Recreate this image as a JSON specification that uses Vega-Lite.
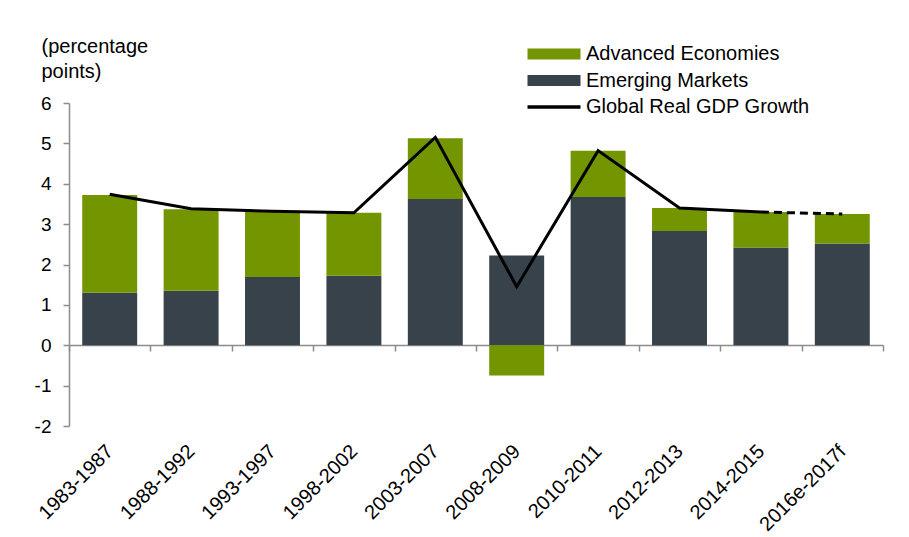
{
  "$schema": "https://vega.github.io/schema/vega-lite/v6.json",
  "width": 814,
  "height": 323,
  "autosize": {"type": "none"},
  "padding": {"left": 69, "top": 103, "right": 26, "bottom": 111},
  "config": {
    "font": "Liberation Sans",
    "view": {"stroke": null},
    "axis": {
      "labelFont": "Liberation Sans",
      "labelColor": "#000000",
      "domainColor": "#8c8c8c",
      "domainWidth": 1.5,
      "tickColor": "#8c8c8c",
      "tickWidth": 1.5,
      "grid": false
    }
  },
  "datasets": {
    "bars": [
      {"period": "1983-1987", "series": "Emerging Markets", "value": 1.3},
      {"period": "1983-1987", "series": "Advanced Economies", "value": 2.42},
      {"period": "1988-1992", "series": "Emerging Markets", "value": 1.35},
      {"period": "1988-1992", "series": "Advanced Economies", "value": 2.02},
      {"period": "1993-1997", "series": "Emerging Markets", "value": 1.69},
      {"period": "1993-1997", "series": "Advanced Economies", "value": 1.61},
      {"period": "1998-2002", "series": "Emerging Markets", "value": 1.72},
      {"period": "1998-2002", "series": "Advanced Economies", "value": 1.56},
      {"period": "2003-2007", "series": "Emerging Markets", "value": 3.62},
      {"period": "2003-2007", "series": "Advanced Economies", "value": 1.51},
      {"period": "2008-2009", "series": "Emerging Markets", "value": 2.22},
      {"period": "2008-2009", "series": "Advanced Economies", "value": -0.75},
      {"period": "2010-2011", "series": "Emerging Markets", "value": 3.67},
      {"period": "2010-2011", "series": "Advanced Economies", "value": 1.15},
      {"period": "2012-2013", "series": "Emerging Markets", "value": 2.83},
      {"period": "2012-2013", "series": "Advanced Economies", "value": 0.57},
      {"period": "2014-2015", "series": "Emerging Markets", "value": 2.42},
      {"period": "2014-2015", "series": "Advanced Economies", "value": 0.88},
      {"period": "2016e-2017f", "series": "Emerging Markets", "value": 2.52},
      {"period": "2016e-2017f", "series": "Advanced Economies", "value": 0.73}
    ],
    "gdp": [
      {"period": "1983-1987", "growth": 3.74, "seg": "actual"},
      {"period": "1988-1992", "growth": 3.38, "seg": "actual"},
      {"period": "1993-1997", "growth": 3.32, "seg": "actual"},
      {"period": "1998-2002", "growth": 3.28, "seg": "actual"},
      {"period": "2003-2007", "growth": 5.15, "seg": "actual"},
      {"period": "2008-2009", "growth": 1.45, "seg": "actual"},
      {"period": "2010-2011", "growth": 4.82, "seg": "actual"},
      {"period": "2012-2013", "growth": 3.4, "seg": "actual"},
      {"period": "2014-2015", "growth": 3.3, "seg": "actual"},
      {"period": "2014-2015", "growth": 3.3, "seg": "forecast"},
      {"period": "2016e-2017f", "growth": 3.25, "seg": "forecast"}
    ]
  },
  "encoding": {
    "x": {
      "field": "period",
      "type": "nominal",
      "sort": null,
      "scale": {"paddingInner": 0, "paddingOuter": 0},
      "axis": {
        "title": null,
        "offset": -81,
        "labelFontSize": 20,
        "labelAngle": -45,
        "labelAlign": "right",
        "labelBaseline": "middle",
        "labelPadding": 97,
        "labelDx": 1,
        "labelOverlap": false,
        "labelBound": false,
        "tickBand": "extent",
        "tickSize": 6
      }
    }
  },
  "layer": [
    {
      "data": {"name": "bars"},
      "mark": {"type": "bar", "width": {"band": 0.675}},
      "encoding": {
        "y": {
          "field": "value",
          "type": "quantitative",
          "stack": "zero",
          "scale": {"domain": [-2, 6], "nice": false},
          "axis": {
            "values": [-2, -1, 0, 1, 2, 3, 4, 5, 6],
            "labelExpr": "replace(datum.label, '−', '-')",
            "labelFontSize": 19,
            "title": ["(percentage", "points)"],
            "titleAngle": 0,
            "titleAlign": "left",
            "titleBaseline": "alphabetic",
            "titleX": -28,
            "titleY": -51,
            "titleFont": "Liberation Sans",
            "titleFontSize": 20,
            "titleFontWeight": "normal",
            "titleLineHeight": 25,
            "tickSize": 6,
            "labelPadding": 12
          }
        },
        "color": {
          "field": "series",
          "type": "nominal",
          "scale": {
            "domain": ["Advanced Economies", "Emerging Markets", "Global Real GDP Growth"],
            "range": ["#739600", "#37424a", "#000000"]
          },
          "legend": {
            "title": null,
            "orient": "none",
            "legendX": 475,
            "legendY": -59,
            "labelFont": "Liberation Sans",
            "labelFontSize": 20,
            "labelColor": "#000000",
            "labelOffset": 22,
            "labelLimit": 400,
            "symbolSize": 2809,
            "symbolType": "M-1,-0.21H1V0.21H-1Z",
            "rowPadding": 6.5,
            "encode": {
              "symbols": {
                "update": {
                  "shape": {"signal": "datum.value === 'Global Real GDP Growth' ? 'stroke' : 'M-1,-0.21H1V0.21H-1Z'"},
                  "fill": {"signal": "scale('color', datum.value)"},
                  "stroke": {"signal": "scale('color', datum.value)"},
                  "strokeWidth": {"signal": "datum.value === 'Global Real GDP Growth' ? 3.5 : 0"},
                  "opacity": {"value": 1},
                  "fillOpacity": {"value": 1}
                }
              }
            }
          }
        },
        "order": {"field": "series", "sort": "descending"}
      }
    },
    {
      "data": {"name": "gdp"},
      "transform": [{"filter": "datum.seg === 'actual'"}],
      "mark": {"type": "line", "strokeWidth": 3, "color": "#000000"},
      "encoding": {
        "y": {"field": "growth", "type": "quantitative"},
        "color": {"datum": "Global Real GDP Growth"}
      }
    },
    {
      "data": {"name": "gdp"},
      "transform": [{"filter": "datum.seg === 'forecast'"}],
      "mark": {"type": "line", "strokeWidth": 3, "strokeDash": [8, 5], "color": "#000000"},
      "encoding": {
        "y": {"field": "growth", "type": "quantitative"},
        "color": {"datum": "Global Real GDP Growth"}
      }
    }
  ]
}
